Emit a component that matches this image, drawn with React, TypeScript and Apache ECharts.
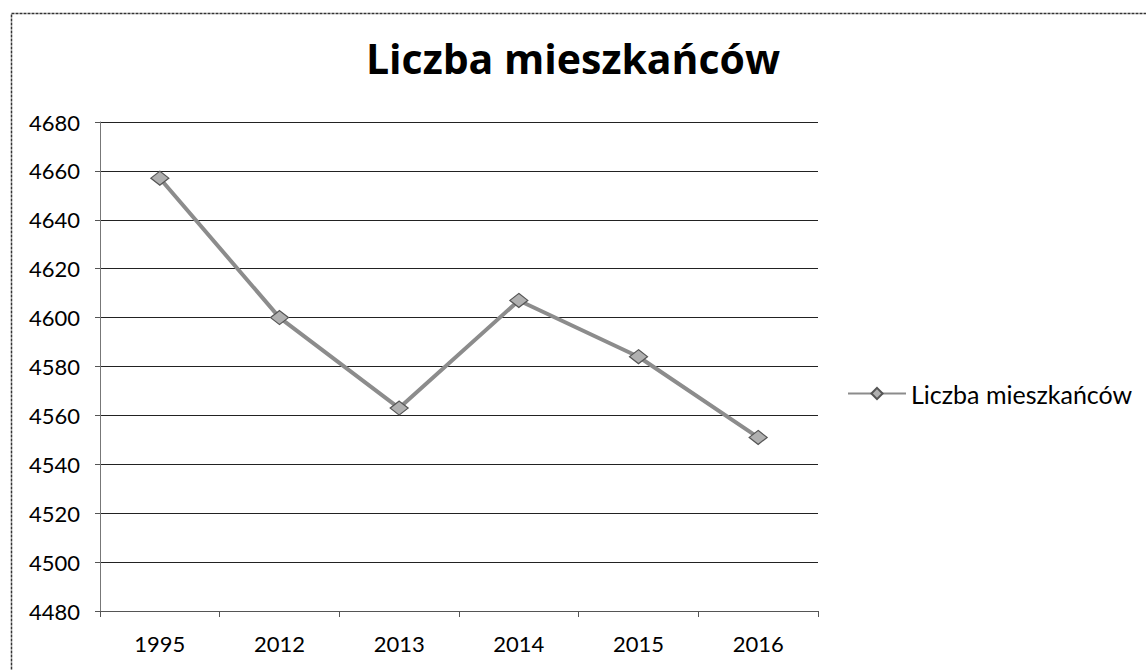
import React, { useEffect, useRef } from "react";
import * as echarts from "echarts";

const categories = ["1995", "2012", "2013", "2014", "2015", "2016"];
const values = [4657, 4600, 4563, 4607, 4584, 4551];
const seriesName = "Liczba mieszkańców";
const titleText = "Liczba mieszkańców";
const yMin = 4480;
const yMax = 4680;
const yStep = 20;

const FONT = "Lato, 'Open Sans', sans-serif";

export default function App() {
  const ref = useRef<HTMLDivElement>(null);
  useEffect(() => {
    if (!ref.current) return;
    const chart = echarts.init(ref.current, undefined, { renderer: "svg" });
    chart.setOption({
      animation: false,
      backgroundColor: "#ffffff",
      textStyle: { fontFamily: FONT },
      title: {
        text: titleText,
        left: "center",
        top: 32,
        textStyle: { fontFamily: "'Open Sans', sans-serif", fontSize: 41, fontWeight: "bold", color: "#000" },
      },
      graphic: [
        {
          type: "rect",
          left: 9,
          top: 11,
          shape: { width: 1160, height: 700 },
          style: { fill: "none", stroke: "#333", lineWidth: 1.5, lineDash: [3, 1] },
          silent: true,
        },
      ],
      legend: {
        orient: "vertical",
        left: 842,
        top: 376,
        itemWidth: 58,
        itemHeight: 14,
        itemGap: 4,
        textStyle: { fontFamily: FONT, fontSize: 25, color: "#000" },
        data: [seriesName],
      },
      grid: { left: 100, right: 328, top: 122, bottom: 59, containLabel: false },
      xAxis: {
        type: "category",
        data: categories,
        boundaryGap: true,
        axisLine: { show: true, lineStyle: { color: "#555", width: 1 } },
        axisTick: { show: true, alignWithLabel: false, length: 6, lineStyle: { color: "#555" } },
        axisLabel: { fontFamily: FONT, fontSize: 22, color: "#000", margin: 21 },
      },
      yAxis: {
        type: "value",
        min: yMin,
        max: yMax,
        interval: yStep,
        axisLine: { show: true, lineStyle: { color: "#777", width: 1 } },
        axisTick: { show: true, length: 5, lineStyle: { color: "#555" } },
        axisLabel: {
          fontFamily: FONT,
          fontSize: 22,
          color: "#000",
          margin: 20,
          formatter: (v: number) => String(v),
        },
        splitLine: { show: true, lineStyle: { color: "#222", width: 1.2 } },
      },
      series: [
        {
          name: seriesName,
          type: "line",
          data: values,
          symbol: "diamond",
          symbolSize: [18, 14],
          lineStyle: { color: "#8c8c8c", width: 4 },
          itemStyle: { color: "#b0b0b0", borderColor: "#555", borderWidth: 1.2 },
        },
      ],
    });
    return () => chart.dispose();
  }, []);
  return (
    <div
      ref={ref}
      style={{ position: "absolute", left: 0, top: 0, width: 1146, height: 670 }}
    />
  );
}
